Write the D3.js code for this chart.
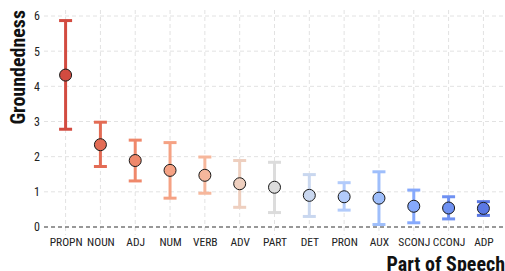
<!DOCTYPE html>
<html>
<head>
<meta charset="utf-8">
<script src="https://cdn.jsdelivr.net/npm/d3@7"></script>
<style>
  body { margin: 0; background: #fff; }
  svg { display: block; }
  text { font-family: "Roboto Condensed", "Liberation Sans Narrow", "Roboto", sans-serif; }
</style>
</head>
<body>
<svg width="505" height="271"></svg>
<script>
// part-of-speech categories, ordered by mean groundedness
const categories = ["PROPN", "NOUN", "ADJ", "NUM", "VERB", "ADV", "PART", "DET", "PRON", "AUX", "SCONJ", "CCONJ", "ADP"];
const means = [4.32, 2.34, 1.89, 1.61, 1.47, 1.23, 1.13, 0.90, 0.86, 0.82, 0.59, 0.54, 0.53];
const lows  = [2.78, 1.72, 1.31, 0.82, 0.96, 0.56, 0.41, 0.30, 0.48, 0.07, 0.12, 0.23, 0.33];
const highs = [5.87, 2.98, 2.47, 2.40, 1.99, 1.89, 1.84, 1.49, 1.26, 1.57, 1.05, 0.86, 0.72];
const yTicks = [0, 1, 2, 3, 4, 5, 6];
const palette = ["#d24b40", "#e36c55", "#ef886b", "#f5a284", "#f6b79c", "#eecfbf", "#dcdcdc",
                 "#c9d7ef", "#b2cbfb", "#9ebefb", "#86a9fc", "#6f91f2", "#5a78e4"];

const data = categories.map((c, i) => ({cat: c, mean: means[i], lo: lows[i], hi: highs[i], col: palette[i]}));

const svg = d3.select("svg");
const margin = {left: 44, right: 0, top: 5, bottom: 44};
const width = +svg.attr("width"), height = +svg.attr("height");

const x = d3.scalePoint()
    .domain(categories)
    .range([margin.left, width - margin.right])
    .padding(0.62);

const y = d3.scaleLinear()
    .domain([0, 6])
    .range([227, 16]);

// grid
const grid = svg.append("g");
grid.selectAll("line.h")
    .data(yTicks.filter(d => d > 0))
    .join("line")
    .attr("x1", margin.left).attr("x2", width)
    .attr("y1", d => y(d)).attr("y2", d => y(d))
    .attr("stroke", "#e2e2e2").attr("stroke-width", 1).attr("stroke-dasharray", "4,3");
grid.selectAll("line.v")
    .data(categories)
    .join("line")
    .attr("x1", d => x(d)).attr("x2", d => x(d))
    .attr("y1", margin.top + 5).attr("y2", y(0) + 8)
    .attr("stroke", "#e2e2e2").attr("stroke-width", 1).attr("stroke-dasharray", "4,3");

// zero line
svg.append("line")
    .attr("x1", margin.left).attr("x2", width)
    .attr("y1", y(0)).attr("y2", y(0))
    .attr("stroke", "#333").attr("stroke-width", 1.2).attr("stroke-dasharray", "4,3");

// axes
const yAxis = svg.append("g")
    .attr("transform", `translate(${margin.left},0)`)
    .call(d3.axisLeft(y).tickValues(yTicks).tickFormat(d3.format("d")).tickSize(0).tickPadding(4));
yAxis.select(".domain").remove();
yAxis.selectAll("text").attr("font-size", 12).attr("fill", "#222");

const xAxis = svg.append("g")
    .attr("transform", `translate(0,${y(0)})`)
    .call(d3.axisBottom(x).tickSize(0).tickPadding(11));
xAxis.select(".domain").remove();
xAxis.selectAll("text").attr("font-size", 11.5).attr("fill", "#222");

// error bars
const bars = svg.append("g").selectAll("g")
    .data(data)
    .join("g")
    .attr("stroke", d => d.col)
    .attr("stroke-width", 3);
bars.append("line")
    .attr("x1", d => x(d.cat)).attr("x2", d => x(d.cat))
    .attr("y1", d => y(d.lo)).attr("y2", d => y(d.hi));
bars.append("line")
    .attr("x1", d => x(d.cat) - 6.5).attr("x2", d => x(d.cat) + 6.5)
    .attr("y1", d => y(d.hi)).attr("y2", d => y(d.hi));
bars.append("line")
    .attr("x1", d => x(d.cat) - 6.5).attr("x2", d => x(d.cat) + 6.5)
    .attr("y1", d => y(d.lo)).attr("y2", d => y(d.lo));

// means
svg.append("g").selectAll("circle")
    .data(data)
    .join("circle")
    .attr("cx", d => x(d.cat))
    .attr("cy", d => y(d.mean))
    .attr("r", 6)
    .attr("fill", d => d.col)
    .attr("stroke", "#1a1a1a")
    .attr("stroke-width", 1);

// titles
svg.append("text")
    .attr("transform", "translate(25,10) rotate(-90)")
    .attr("text-anchor", "end")
    .attr("font-size", 20)
    .attr("font-weight", "bold")
    .attr("fill", "#111")
    .text("Groundedness");

svg.append("text")
    .attr("x", width)
    .attr("y", 271)
    .attr("text-anchor", "end")
    .attr("font-size", 20)
    .attr("font-weight", "bold")
    .attr("fill", "#111")
    .text("Part of Speech");
</script>
</body>
</html>
